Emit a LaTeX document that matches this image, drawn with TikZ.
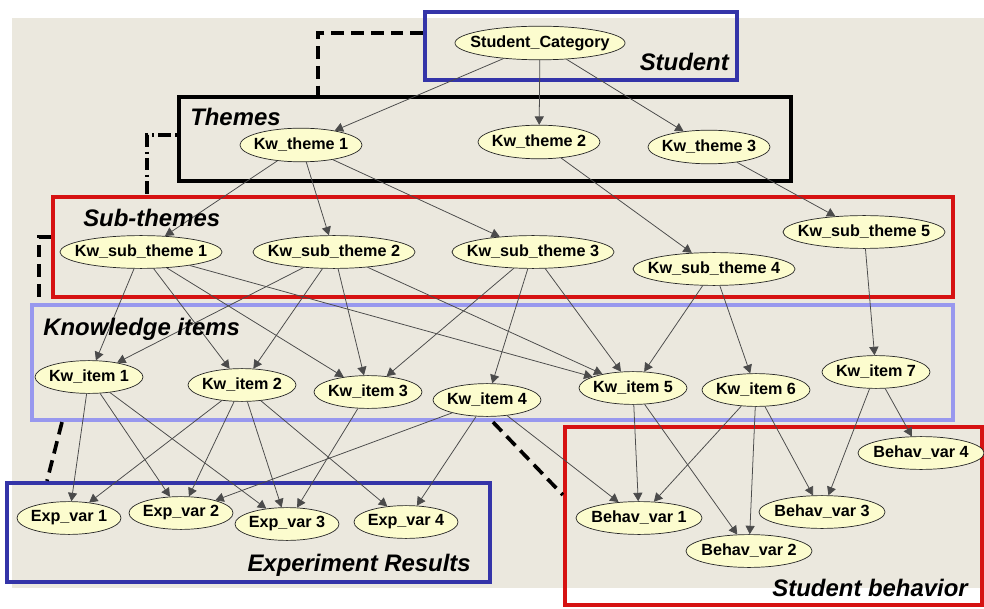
\documentclass[tikz,border=0pt]{standalone}
\usepackage{fontspec}
\setmainfont{Liberation Sans}
\usepackage{tikz}
\usetikzlibrary{positioning, calc, shapes.geometric, arrows.meta, backgrounds, fit}

\definecolor{paper}{RGB}{235, 232, 222}
\definecolor{varYellow}{RGB}{252, 252, 206}
\definecolor{edgeGray}{RGB}{75, 75, 75}
\definecolor{grpBlue}{RGB}{52, 52, 168}
\definecolor{grpRed}{RGB}{214, 18, 18}
\definecolor{grpLilac}{RGB}{152, 152, 238}

\begin{document}
\begin{tikzpicture}[
    x=0.025cm, y=-0.025cm,
    var/.style={ellipse, draw=black!85, line width=0.5pt, fill=varYellow,
                inner xsep=-0.6cm, inner ysep=0pt, minimum height=0.82cm,
                font=\fontsize{11.5}{13}\selectfont\bfseries},
    topvar/.style={var, minimum width=4.25cm, minimum height=0.84cm},
    themevar/.style={var, minimum width=3.05cm, minimum height=0.84cm},
    subvar/.style={var, minimum width=4.05cm},
    itemvar/.style={var, minimum width=2.7cm},
    expvar/.style={var, minimum width=2.6cm},
    behvar/.style={var, minimum width=3.15cm},
    dep/.style={-{Triangle[length=6pt, width=6.5pt]}, edgeGray, line width=0.55pt},
    grp/.style={rectangle, line width=3pt, inner sep=0pt},
    grplabel/.style={inner sep=0pt, font=\fontsize{17}{20}\selectfont\bfseries\itshape},
    link/.style={line width=2.6pt, dash pattern=on 9pt off 5pt},
    linkdot/.style={line width=2.6pt, dash pattern=on 1.5pt off 3pt on 9pt off 3pt},
  ]
    \useasboundingbox (0,0) rectangle (984,609);

    % network variables, level by level
    \node[topvar] (sc) at (540,43) {Student\_Category};

    \node[themevar] (t1) at (301,145) {Kw\_theme 1};
    \node[themevar] (t2) at (539,142) {Kw\_theme 2};
    \node[themevar] (t3) at (709,147) {Kw\_theme 3};

    \node[subvar] (st1) at (141,252) {Kw\_sub\_theme 1};
    \node[subvar] (st2) at (334,252) {Kw\_sub\_theme 2};
    \node[subvar] (st3) at (533,252) {Kw\_sub\_theme 3};
    \node[subvar] (st4) at (714,269) {Kw\_sub\_theme 4};
    \node[subvar] (st5) at (864,232) {Kw\_sub\_theme 5};

    \node[itemvar] (i1) at (89,377) {Kw\_item 1};
    \node[itemvar] (i2) at (242,385) {Kw\_item 2};
    \node[itemvar] (i3) at (368,392) {Kw\_item 3};
    \node[itemvar] (i4) at (487,400) {Kw\_item 4};
    \node[itemvar] (i5) at (633,388) {Kw\_item 5};
    \node[itemvar] (i6) at (756,390) {Kw\_item 6};
    \node[itemvar] (i7) at (876,372) {Kw\_item 7};

    \node[expvar] (e1) at (69,518) {Exp\_var 1};
    \node[expvar] (e2) at (181,513) {Exp\_var 2};
    \node[expvar] (e3) at (287,524) {Exp\_var 3};
    \node[expvar] (e4) at (406,522) {Exp\_var 4};

    \node[behvar] (b1) at (639,518) {Behav\_var 1};
    \node[behvar] (b2) at (749,551) {Behav\_var 2};
    \node[behvar] (b3) at (822,512) {Behav\_var 3};
    \node[behvar] (b4) at (921,453) {Behav\_var 4};

    % dependencies
    \draw[dep] (sc) -- (t1);  \draw[dep] (sc) -- (t2);  \draw[dep] (sc) -- (t3);
    \draw[dep] (t1) -- (st1); \draw[dep] (t1) -- (st2); \draw[dep] (t1) -- (st3);
    \draw[dep] (t2) -- (st4); \draw[dep] (t3) -- (st5);
    \draw[dep] (st1) -- (i1); \draw[dep] (st1) -- (i2); \draw[dep] (st1) -- (i3); \draw[dep] (st1) -- (i5);
    \draw[dep] (st2) -- (i1); \draw[dep] (st2) -- (i2); \draw[dep] (st2) -- (i3); \draw[dep] (st2) -- (i5);
    \draw[dep] (st3) -- (i3); \draw[dep] (st3) -- (i4); \draw[dep] (st3) -- (i5);
    \draw[dep] (st4) -- (i5); \draw[dep] (st4) -- (i6);
    \draw[dep] (st5) -- (i7);
    \draw[dep] (i1) -- (e1);  \draw[dep] (i1) -- (e2);  \draw[dep] (i1) -- (e3);
    \draw[dep] (i2) -- (e1);  \draw[dep] (i2) -- (e2);  \draw[dep] (i2) -- (e3);  \draw[dep] (i2) -- (e4);
    \draw[dep] (i3) -- (e3);
    \draw[dep] (i4) -- (e2);  \draw[dep] (i4) -- (e4);  \draw[dep] (i4) -- (b1);
    \draw[dep] (i5) -- (b1);  \draw[dep] (i5) -- (b2);
    \draw[dep] (i6) -- (b1);  \draw[dep] (i6) -- (b2);  \draw[dep] (i6) -- (b3);
    \draw[dep] (i7) -- (b3);  \draw[dep] (i7) -- (b4);

    % groups
    \begin{scope}[on background layer]
      \fill[paper] (12,18) rectangle (984,588);
      \node[grp, draw=grpBlue, fit={(425,12) (737,80)}] (student) {};
      \node[grp, draw=black, fit={(179,97) (791,181)}] (themes) {};
      \node[grp, draw=grpRed, fit={(53,197) (953,297)}] (subthemes) {};
      \node[grp, draw=grpLilac, fit={(32,305) (953,420)}] (knowledge) {};
      \node[grp, draw=grpBlue, fit={(7,483) (490,582)}] (experiment) {};
      \node[grp, draw=grpRed, fit={(565,427) (982,605)}] (behavior) {};
    \end{scope}

    \node[grplabel, anchor=base east] (lblStudent) at (729,71) {Student};
    \node[grplabel, anchor=base west] (lblThemes) at (190,126) {Themes};
    \node[grplabel, anchor=base west] (lblSub) at (83,227) {Sub-themes};
    \node[grplabel, anchor=base west] (lblKnow) at (43,335) {Knowledge items};
    \node[grplabel, anchor=base east] (lblExp) at (471,571) {Experiment Results};
    \node[grplabel, anchor=base east] (lblBehav) at (968,596) {Student behavior};

    % links between groups
    \draw[link] (student.west |- 0,33) -| (themes.north -| 318,0);
    \draw[linkdot] (themes.west |- 0,135) -| (subthemes.north -| 147,0);
    \draw[link] (subthemes.west |- 0,237) -| (knowledge.north -| 39,0);
    \draw[link] (knowledge.south -| 62,0) -- (experiment.north -| 47,0);
    \draw[link] (knowledge.south -| 493,0) -- (behavior.west |- 0,495);
\end{tikzpicture}
\end{document}
